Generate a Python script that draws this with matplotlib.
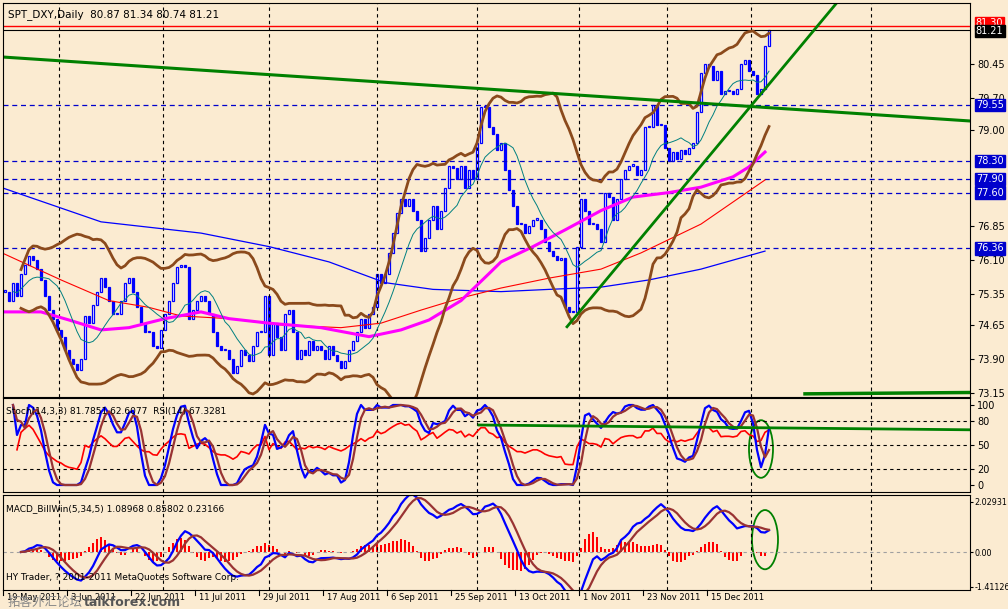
import numpy as np
import pandas as pd
import matplotlib
matplotlib.use("Agg")
from matplotlib import pyplot as plt
from matplotlib.patches import Ellipse
import matplotlib.transforms as mtrans

plt.rcParams['font.family'] = ['DejaVu Sans', 'Noto Sans CJK SC']

# daily closes, SPT_DXY 19 May 2011 .. 28 Dec 2011
closes = [
    75.4, 75.2, 75.6, 75.3, 75.8, 76.0, 76.2, 76.1, 75.9, 75.65, 75.3, 75.0, 74.8, 74.55,
    74.4, 74.1, 73.9, 73.8, 73.65, 73.9, 74.85, 74.7, 75.1, 75.4, 75.7, 75.5, 75.2, 74.9,
    74.9, 75.2, 75.6, 75.7, 75.4, 75.05, 74.7, 74.5, 74.5, 74.2, 74.15, 74.55,
    74.9, 75.2, 75.6, 75.95, 76.0, 75.95, 74.8, 75.0, 75.2, 75.3, 75.2, 74.9, 74.5, 74.2,
    74.1, 74.1, 73.9, 73.6, 73.75, 74.1, 74.0, 73.85, 74.2, 74.5, 74.5, 75.3,
    74.0, 74.7, 74.4, 74.1, 74.9, 75.0, 74.5, 73.9, 74.1, 74.0, 74.3, 74.1, 74.2, 74.1,
    73.9, 74.2, 74.0, 73.85, 73.7, 73.85, 74.1, 74.3, 74.5, 74.8, 74.6, 74.9, 75.05,
    75.8, 75.6, 75.8, 76.25, 76.7, 77.15, 77.45, 77.3, 77.45, 77.2, 77.0, 76.3, 76.6, 77.0,
    77.3, 76.8, 77.2, 77.7, 78.2, 78.15, 77.9, 78.2, 77.7, 78.1, 77.9, 78.7, 79.5, 79.5,
    79.05, 78.9, 78.55,
    78.7, 78.1, 77.65, 77.3, 76.9, 76.9, 76.7, 76.85, 77.0, 77.0, 76.8,
    76.5, 76.3, 76.2, 76.1, 76.15, 75.05, 74.95, 74.95, 76.4, 77.45,
    77.2, 76.9, 76.9, 76.8, 76.5, 77.6, 77.5, 77.0, 77.45, 77.9,
    78.1, 78.2, 78.2, 78.0, 78.1, 79.05, 79.05, 79.55, 79.1, 79.1,
    78.6, 78.3, 78.5, 78.35, 78.55, 78.45, 78.6, 78.7, 79.4, 80.25,
    80.45, 80.4, 80.1, 80.3, 79.8, 79.85, 79.85, 79.8, 79.9, 80.45,
    80.55, 80.3, 80.2, 79.8, 79.9, 80.85, 81.21,
]

# long moving averages (bar index, price)
ma_blue_x = [-0.5, 24, 49, 66, 81, 95, 107, 124, 136, 149, 161, 174, 190]
ma_blue_y = [77.7, 76.95, 76.7, 76.4, 76.06, 75.6, 75.45, 75.4, 75.45, 75.5, 75.66, 75.9, 76.3]
ma_red_x = [-0.5, 14, 26, 36, 44, 56, 69, 84, 94, 104, 114, 124, 136, 149, 159, 174, 190]
ma_red_y = [76.25, 75.66, 75.2, 75.05, 74.86, 74.8, 74.66, 74.6, 74.7, 74.99, 75.26, 75.48,
            75.7, 75.9, 76.26, 76.9, 77.88]
ma_mag_x = [-0.5, 9, 16, 24, 31, 40, 49, 56, 66, 79, 91, 99, 106, 114, 121, 124, 132, 140,
            149, 157, 166, 174, 182, 186, 190]
ma_mag_y = [74.95, 74.95, 74.77, 74.55, 74.6, 74.8, 74.95, 74.8, 74.7, 74.6, 74.4, 74.55,
            74.77, 75.2, 75.8, 76.06, 76.4, 76.77, 77.2, 77.5, 77.6, 77.72, 77.95, 78.17, 78.5]

date_labels = ['19 May 2011', '3 Jun 2011', '22 Jun 2011', '11 Jul 2011', '29 Jul 2011',
               '17 Aug 2011', '6 Sep 2011', '25 Sep 2011', '13 Oct 2011', '1 Nov 2011',
               '23 Nov 2011', '15 Dec 2011']
vgrid = [13.5, 39.5, 66, 93, 118, 143.5, 165.5, 186.5, 216.5]
hlines = [79.55, 78.30, 77.90, 77.60, 76.36]
price_ticks = [80.45, 79.70, 79.00, 76.85, 76.10, 75.35, 74.65, 73.90, 73.15]

# drawn trend lines (bar index, price)
tl1_x, tl1_y = [-0.5, 241.25], [80.61, 79.19]
tl2_x, tl2_y = [140.5, 208.75], [74.62, 81.9]
tl3_x, tl3_y = [200, 241.25], [73.13, 73.16]
st_line_x, st_line_y = [118.5, 241.25], [75, 69]

BG = '#FBEBD1'
BLUE = '#0000FF'
BROWN = '#8B4A1C'

c = pd.Series(closes)
n = len(c)
x = np.arange(n)
o = c.shift(1).fillna(c.iloc[0])

bb_mid = c.rolling(20, min_periods=5).mean()
bb_sd = c.rolling(20, min_periods=5).std(ddof=0)
teal = c.rolling(10, min_periods=3).mean()

lo14 = c.rolling(14, min_periods=3).min()
hi14 = c.rolling(14, min_periods=3).max()
rawk = (c - lo14) / (hi14 - lo14).replace(0, np.nan) * 100
k = rawk.rolling(3, min_periods=1).mean()
d = k.rolling(3, min_periods=1).mean()
delta = c.diff()
up = delta.clip(lower=0).ewm(alpha=1 / 14, min_periods=3).mean()
dn = (-delta.clip(upper=0)).ewm(alpha=1 / 14, min_periods=3).mean()
rsi = 100 - 100 / (1 + up / dn)

macd = c.rolling(5, min_periods=1).mean() - c.rolling(34, min_periods=5).mean()
sig = macd.rolling(5, min_periods=1).mean()
hist = macd - sig

W, H = 1008, 609
fig = plt.figure(figsize=(W / 100, H / 100), dpi=100, facecolor=BG)


def mkax(top, bot):
    ax = fig.add_axes([3 / W, 1 - bot / H, 967 / W, (bot - top) / H], facecolor=BG)
    ax.set_xlim(-0.5, 241.25)
    ax.yaxis.tick_right()
    ax.tick_params(axis='y', labelsize=7, length=3, pad=2)
    ax.set_xticks([])
    for s in ax.spines.values():
        s.set_color('black')
    for g in vgrid:
        ax.axvline(g, color='black', ls=(0, (3, 3)), lw=0.8)
    return ax


# main price panel
ax = mkax(3, 397)
ax.set_ylim(73.06, 81.81)
ax.set_yticks(price_ticks)
ax.set_yticklabels(['%.2f' % v for v in price_ticks])
for h in hlines:
    ax.axhline(h, color='#0000CC', ls=(0, (4, 3)), lw=0.9)
ax.axhline(81.30, color='red', lw=1)
ax.axhline(81.21, color='black', lw=0.8)
ax.plot(ma_blue_x, ma_blue_y, color=BLUE, lw=0.9)
ax.plot(ma_red_x, ma_red_y, color='red', lw=0.8)
ax.plot(ma_mag_x, ma_mag_y, color='#FF00FF', lw=2.2)
ax.plot(x, bb_mid + 2 * bb_sd, color=BROWN, lw=2)
ax.plot(x, bb_mid - 2 * bb_sd, color=BROWN, lw=2)
ax.plot(x, teal, color='#008080', lw=0.7)
body = (c - o).abs().clip(lower=0.03)
bot = np.minimum(c, o)
bull = c >= o
ax.bar(x[bull], body[bull], bottom=bot[bull], width=0.6, color='white', edgecolor=BLUE, lw=0.9)
ax.bar(x[~bull], body[~bull], bottom=bot[~bull], width=0.6, color=BLUE, edgecolor=BLUE, lw=0.9)
ax.plot(tl1_x, tl1_y, color='#008000', lw=2.2)
ax.plot(tl2_x, tl2_y, color='#008000', lw=2)
ax.plot(tl3_x, tl3_y, color='#008000', lw=2.5)
ax.text(0.005, 0.985, 'SPT_DXY,Daily  80.87 81.34 80.74 81.21', transform=ax.transAxes,
        fontsize=7.5, va='top')
tr = mtrans.blended_transform_factory(ax.transAxes, ax.transData)
ax.text(1.006, 81.36, '81.30', transform=tr, fontsize=7, color='white', va='center',
        bbox=dict(boxstyle='square,pad=0.12', fc='red', ec='red'))
ax.text(1.006, 81.19, '81.21', transform=tr, fontsize=7, color='white', va='center',
        bbox=dict(boxstyle='square,pad=0.12', fc='black', ec='black'))
for h in hlines:
    ax.text(1.006, h, '%.2f' % h, transform=tr, fontsize=7, color='white', va='center',
            bbox=dict(boxstyle='square,pad=0.12', fc='#0000CC', ec='#0000CC'))

# stochastic / RSI panel
ax2 = mkax(398, 492)
ax2.set_ylim(-8.75, 108.75)
ax2.set_yticks([100, 80, 50, 20, 0])
for lv in [80, 50, 20]:
    ax2.axhline(lv, color='black', ls=(0, (3, 3)), lw=0.8)
ax2.plot(x, rsi, color='red', lw=1.2)
ax2.plot(x, k, color=BLUE, lw=1.6)
ax2.plot(x, d, color='#993333', lw=1.6)
ax2.plot(st_line_x, st_line_y, color='#008000', lw=2)
ax2.add_patch(Ellipse((189, 45), 6, 72, fill=False, ec='#008000', lw=1.3))
ax2.text(0.003, 0.9, 'Stoch(14,3,3) 81.7851 62.6077  RSI(14) 67.3281', transform=ax2.transAxes,
         fontsize=6.5, va='top')

# MACD panel
ax3 = mkax(495, 590)
ax3.set_ylim(-1.54, 2.31)
ax3.set_yticks([2.02931, 0.0, -1.41126])
ax3.set_yticklabels(['2.02931', '0.00', '-1.41126'])
ax3.tick_params(axis='y', labelsize=5.8, pad=1, length=2)
ax3.axhline(0, color='#A0A0A0', ls=(0, (3, 3)), lw=0.8)
ax3.bar(x, hist, width=0.6, color='red')
ax3.plot(x, macd, color=BLUE, lw=1.6)
ax3.plot(x, sig, color='#993333', lw=1.6)
ax3.add_patch(Ellipse((190, 0.5), 6.5, 2.4, fill=False, ec='#008000', lw=1.3))
ax3.text(0.003, 0.9, 'MACD_BillWin(5,34,5) 1.08968 0.85802 0.23166', transform=ax3.transAxes,
         fontsize=6.5, va='top')
ax3.text(0.003, 0.08, 'HY Trader, ? 2001-2011 MetaQuotes Software Corp.', transform=ax3.transAxes,
         fontsize=6.5, va='bottom')
dtr = mtrans.blended_transform_factory(ax3.transData, ax3.transAxes)
for i, lab in enumerate(date_labels):
    ax3.text(16 * i + 0.5, -0.03, lab, transform=dtr, fontsize=6, va='top', ha='left')
    ax3.plot([16 * i - 0.5] * 2, [0, -0.05], color='black', lw=0.8, transform=dtr, clip_on=False)
fig.text(8 / W, 1 - 602 / H, '拓客外汇论坛', fontsize=9, color='#888888', va='center',
         family=['Noto Sans CJK SC', 'DejaVu Sans'])
fig.text(84 / W, 1 - 602 / H, 'talkforex.com', fontsize=9, color='#555555', weight='bold', va='center')

fig.savefig('out.png', dpi=100, facecolor=BG)
